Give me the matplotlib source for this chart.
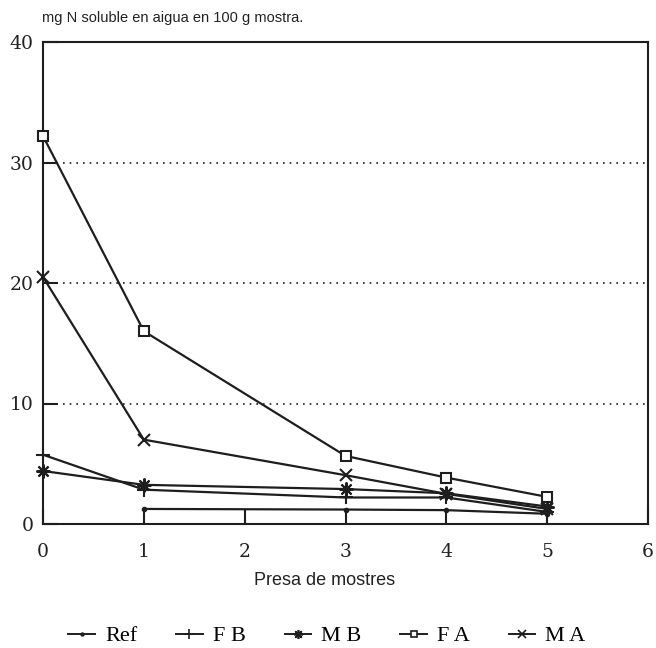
import matplotlib
matplotlib.use("Agg")
import matplotlib.pyplot as plt
from matplotlib.lines import Line2D

# Data
x_full = [0, 1, 3, 4, 5]
x_ref = [1, 3, 4, 5]
ref = [1.25, 1.2, 1.15, 0.85]
fb = [5.75, 2.85, 2.2, 2.2, 1.0]
mb = [4.4, 3.25, 2.9, 2.55, 1.45]
fa = [32.2, 16.0, 5.65, 3.85, 2.25]
ma = [20.5, 7.0, 4.05, 2.5, 1.25]

labels = ["Ref", "F B", "M B", "F A", "M A"]
yticks = [0, 10, 20, 30, 40]
xticks = [0, 1, 2, 3, 4, 5, 6]

col = "#1e1e1e"
serif = ["DejaVu Serif"]
sans = ["Liberation Sans"]

fig = plt.figure(figsize=(6.56, 6.48), dpi=100)
ax = fig.add_axes([43/656, 1-524/648, (648-43)/656, (524-42)/648])

lw = 1.6
kw = dict(color=col, lw=lw, clip_on=False, zorder=3)
h_ref, = ax.plot(x_ref, ref, marker='o', ms=3, mfc=col, **kw)
h_fb, = ax.plot(x_full, fb, marker='+', ms=10, mew=1.5, **kw)
h_mb, = ax.plot(x_full, mb, marker=(8, 2, 0), ms=10, mew=1.5, **kw)
h_fa, = ax.plot(x_full, fa, marker='s', ms=7, mfc='white', mew=1.5, **kw)
h_ma, = ax.plot(x_full, ma, marker='x', ms=9, mew=1.5, **kw)

ax.set_xlim(0, 6)
ax.set_ylim(0, 40)
ax.set_xticks(xticks)
ax.set_yticks(yticks)
ax.tick_params(direction='in', length=11, width=1.5, colors=col, labelsize=13.5)
ax.tick_params(axis='x', pad=14)
ax.tick_params(axis='y', pad=7)
for lab in ax.get_xticklabels() + ax.get_yticklabels():
    lab.set_family(serif)
    lab.set_color("#222222")
for s in ax.spines.values():
    s.set_linewidth(1.5)
    s.set_color(col)

for yv in [10, 20, 30]:
    ax.axhline(yv, color=col, lw=1.2, ls=(0, (1, 3)), zorder=0)

ax.set_xlabel("Presa de mostres", family=sans, fontsize=13, color="#222222")
ax.xaxis.set_label_coords((325-43)/(648-43), -0.1)

fig.text(42/656, 1-18/648, "mg N soluble en aigua en 100 g mostra.",
         family=sans, fontsize=10.5, color="#222222", va='center', ha='left')

handles = [h_ref, h_fb, h_mb, h_fa, h_ma]
leg_handles = []
for h in handles:
    leg_handles.append(Line2D([], [], color=col, lw=1.4, marker=h.get_marker(),
                              ms=h.get_markersize()*0.65, mfc=h.get_markerfacecolor(),
                              mew=1.2))
fig.legend(leg_handles, labels, loc='center', bbox_to_anchor=(327/656, 1-636/648),
           ncol=5, frameon=False, prop={'family': ['Liberation Serif'], 'size': 16},
           handlelength=1.2, handletextpad=0.45, columnspacing=1.75,
           borderpad=0, borderaxespad=0)

fig.savefig("out.png", dpi=100)
